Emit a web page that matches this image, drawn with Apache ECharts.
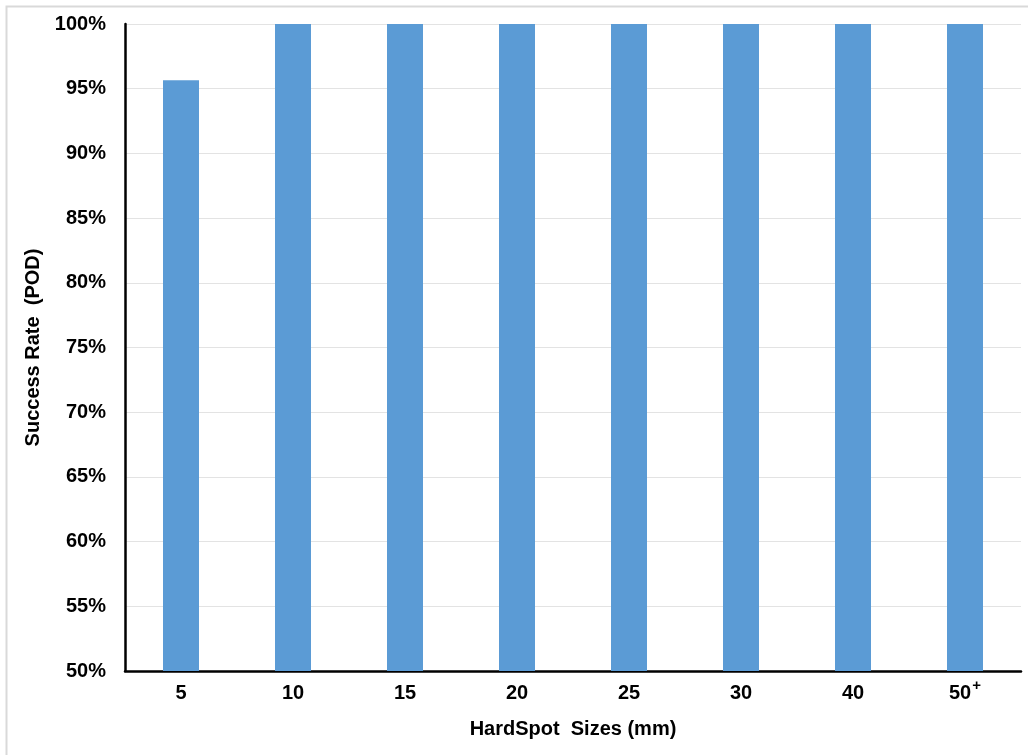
<!DOCTYPE html>
<html>
<head>
<meta charset="utf-8">
<script src="https://cdn.jsdelivr.net/npm/echarts@6/dist/echarts.min.js"></script>
<style>
  html, body { margin: 0; padding: 0; background: #fff; }
  #chart { width: 1028px; height: 755px; }
</style>
</head>
<body>
<div id="chart"></div>
<script>
// Hard-spot sizes (mm) and detection success rate (%)
const sizes = ['5', '10', '15', '20', '25', '30', '40', '50+'];
const successRate = [95.65, 100, 100, 100, 100, 100, 100, 100];

// Y axis range and step (percent)
const yMin = 50;
const yMax = 100;
const yStep = 5;

const font = '"Liberation Sans", Arial, sans-serif';

const chart = echarts.init(document.getElementById('chart'), null, { renderer: 'canvas' });

chart.setOption({
  backgroundColor: '#ffffff',
  animation: false,
  graphic: [{
    type: 'rect',
    left: 4, top: 4,
    shape: { width: 3000, height: 3000 },
    style: { fill: 'none', stroke: '#d9d9d9', lineWidth: 2 },
    silent: true
  }],
  grid: { left: 125, right: 7, top: 24, bottom: 84 },
  xAxis: {
    type: 'category',
    data: sizes,
    name: 'HardSpot  Sizes (mm)',
    nameLocation: 'middle',
    nameGap: 48,
    nameTextStyle: { fontFamily: font, fontSize: 20, fontWeight: 'bold', color: '#000' },
    axisLine: { show: true, lineStyle: { color: '#000', width: 2.5 } },
    axisTick: { show: false },
    axisLabel: {
      interval: 0,
      margin: 7,
      fontFamily: font,
      fontSize: 20,
      fontWeight: 'bold',
      color: '#000',
      // a trailing "+" is drawn as a superscript
      formatter: function (v) {
        const m = /^(.*)\+$/.exec(v);
        return m ? '{n|' + m[1] + '}{sup|+}' : '{n|' + v + '}';
      },
      rich: {
        n: { fontFamily: font, fontSize: 20, fontWeight: 'bold', color: '#000', lineHeight: 30 },
        sup: { fontFamily: font, fontSize: 15, fontWeight: 'bold', color: '#000', lineHeight: 10, verticalAlign: 'top', padding: [0, 0, 0, 1] }
      }
    }
  },
  yAxis: {
    type: 'value',
    min: yMin,
    max: yMax,
    interval: yStep,
    name: 'Success Rate  (POD)',
    nameLocation: 'middle',
    nameGap: 78,
    nameTextStyle: { fontFamily: font, fontSize: 20, fontWeight: 'bold', color: '#000' },
    axisLine: { show: true, lineStyle: { color: '#000', width: 2.5 } },
    axisTick: { show: false },
    axisLabel: {
      margin: 19,
      fontFamily: font,
      fontSize: 20,
      fontWeight: 'bold',
      color: '#000',
      formatter: '{value}%'
    },
    splitLine: { show: true, lineStyle: { color: '#e3e3e3', width: 1 } }
  },
  series: [{
    type: 'bar',
    data: successRate,
    barWidth: 36,
    itemStyle: { color: '#5B9BD5' }
  }]
});
</script>
</body>
</html>
